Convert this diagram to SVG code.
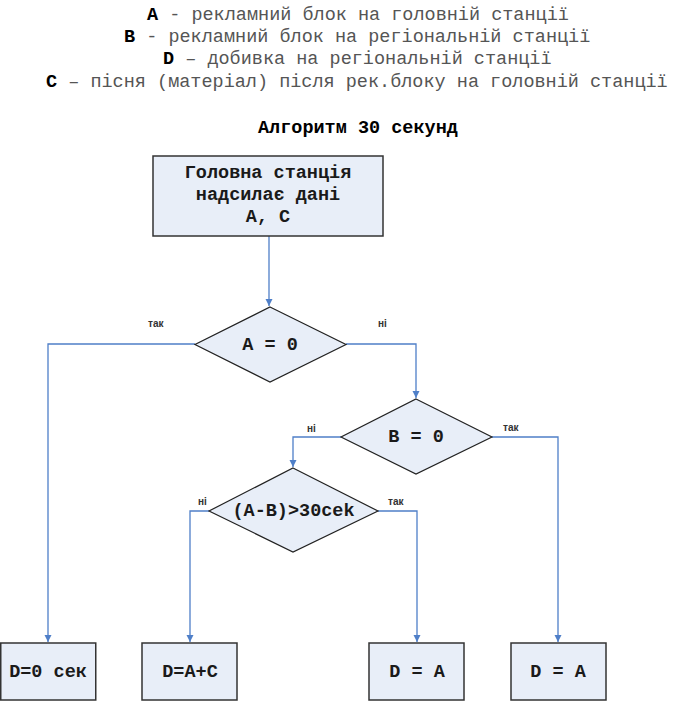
<svg xmlns="http://www.w3.org/2000/svg" width="685" height="701" viewBox="0 0 685 701">
<style>
.hdr{font-family:"Liberation Mono","Courier New",monospace;font-size:18.5px;fill:#555;}
.b{font-weight:bold;fill:#000;}
.nt{font-family:"Liberation Mono","Courier New",monospace;font-size:18.5px;font-weight:bold;fill:#1a1a1a;text-anchor:middle;}
.lbl{font-family:"Liberation Sans",Arial,sans-serif;font-size:10px;font-weight:bold;fill:#333;}
.shape{fill:#e8eef8;stroke:#222;stroke-width:1.2;}
.box{fill:#e8eef8;stroke:#333;stroke-width:1.5;}
.conn{fill:none;stroke:#4f7fc8;stroke-width:1.3;}
</style>
<defs>
<marker id="arr" markerWidth="8" markerHeight="8" refX="7" refY="4" orient="auto" markerUnits="userSpaceOnUse">
<path d="M0,0.5 L7,4 L0,7.5 Z" fill="#4f7fc8"/>
</marker>
</defs>
<rect width="685" height="701" fill="#fff"/>
<g id="legend">
<text class="hdr" x="147" y="20"><tspan class="b">A</tspan> - рекламний блок на головній станції</text>
<text class="hdr" x="124" y="42"><tspan class="b">B</tspan> - рекламний блок на регіональній станції</text>
<text class="hdr" x="163" y="64"><tspan class="b">D</tspan> – добивка на регіональній станції</text>
<text class="hdr" x="46" y="87"><tspan class="b">C</tspan> – пісня (матеріал) після рек.блоку на головній станції</text>
<text class="hdr b" x="258" y="133">Алгоритм 30 секунд</text>
</g>
<g id="connectors">
<path class="conn" d="M269,236 L269,306" marker-end="url(#arr)"/>
<path class="conn" d="M195,344 L48,344 L48,642" marker-end="url(#arr)"/>
<path class="conn" d="M346,344 L416,344 L416,398" marker-end="url(#arr)"/>
<path class="conn" d="M341,437 L293,437 L293,467" marker-end="url(#arr)"/>
<path class="conn" d="M492,437 L558,437 L558,642" marker-end="url(#arr)"/>
<path class="conn" d="M209,511 L190,511 L190,642" marker-end="url(#arr)"/>
<path class="conn" d="M378,511 L417,511 L417,642" marker-end="url(#arr)"/>
<text class="lbl" x="148" y="327">так</text>
<text class="lbl" x="378" y="327">ні</text>
<text class="lbl" x="307" y="432">ні</text>
<text class="lbl" x="503" y="431">так</text>
<text class="lbl" x="198" y="505">ні</text>
<text class="lbl" x="388" y="505">так</text>
</g>
<g id="start">
<rect class="box" x="153" y="156" width="230" height="80"/>
<text class="nt" x="268" y="178">Головна станція</text>
<text class="nt" x="268" y="200">надсилає дані</text>
<text class="nt" x="268" y="222">A, C</text>
</g>
<g id="decA">
<polygon class="shape" points="270,307 346,344.5 270,382 195,344.5"/>
<text class="nt" x="270" y="350">A = 0</text>
</g>
<g id="decB">
<polygon class="shape" points="416,399 492,437 416,474 341,437"/>
<text class="nt" x="416" y="442">B = 0</text>
</g>
<g id="decC">
<polygon class="shape" points="293,468 378,511 293,552 209,511"/>
<text class="nt" x="293.5" y="516">(A-B)&gt;30cek</text>
</g>
<g id="out1">
<rect class="box" x="0.75" y="643" width="95" height="57"/>
<text class="nt" x="48" y="677">D=0 сек</text>
</g>
<g id="out2">
<rect class="box" x="142" y="643" width="95" height="57"/>
<text class="nt" x="190" y="677">D=A+C</text>
</g>
<g id="out3">
<rect class="box" x="369" y="643" width="95" height="57"/>
<text class="nt" x="417" y="677">D = A</text>
</g>
<g id="out4">
<rect class="box" x="511" y="643" width="95" height="57"/>
<text class="nt" x="558" y="677">D = A</text>
</g>
</svg>
